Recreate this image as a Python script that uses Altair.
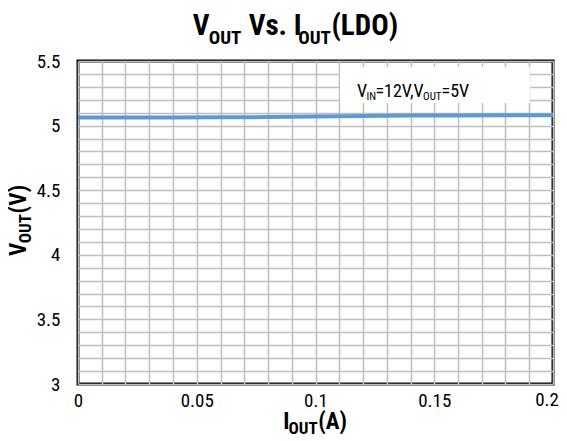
import altair as alt
import pandas as pd

# Line data
i_out = [0.0, 0.02, 0.04, 0.06, 0.08, 0.10, 0.12, 0.14, 0.16, 0.18, 0.20]
v_out = [5.062, 5.062, 5.063, 5.064, 5.066, 5.070, 5.075, 5.078, 5.079, 5.080, 5.080]

# Grid / tick values
x_grid = [round(0.01 * k, 2) for k in range(0, 21)]
y_grid = [round(3.0 + 0.1 * k, 1) for k in range(0, 26)]
x_last_label = 0.2

FONT = "Roboto Condensed, Liberation Sans, Arial, sans-serif"

# Arial advance widths (per 1000 em); Roboto Condensed is roughly 0.8 of these
W_REG = {" ": 278, "(": 333, ")": 333, ",": 278, ".": 278, "=": 584, "1": 556, "2": 556,
         "5": 556, "A": 667, "D": 722, "I": 278, "L": 556, "N": 722, "O": 778, "T": 611,
         "U": 722, "V": 667, "s": 500}
W_BOLD = {" ": 278, "(": 333, ")": 333, ".": 278, "A": 722, "D": 722, "I": 278, "L": 611,
          "O": 778, "T": 611, "U": 722, "V": 667, "s": 556}


def width(s, size, bold):
    tab = W_BOLD if bold else W_REG
    k = 0.83 if bold else 0.80
    return sum(tab.get(c, 556) for c in s) * size / 1000.0 * k


df = pd.DataFrame({"i": i_out, "v": v_out})
one = pd.DataFrame({"k": [0]})

x_axis = alt.Axis(
    values=x_grid, grid=True, ticks=False, domain=False, title=None,
    labelExpr="abs(datum.value*20 - round(datum.value*20)) < 0.0001 && datum.value < 0.199 ? format(datum.value, '~g') : ''",
    labelFont=FONT, labelFontSize=19, labelColor="black", labelPadding=7,
    gridColor="#BEBEBE", gridWidth=1.5, labelOverlap=False, labelFlush=False,
)
y_axis = alt.Axis(
    values=y_grid, grid=True, ticks=False, domain=False, title=None,
    labelExpr="abs(datum.value*2 - round(datum.value*2)) < 0.0001 ? format(datum.value, '~g') : ''",
    labelFont=FONT, labelFontSize=19, labelColor="black", labelPadding=18,
    gridColor="#BEBEBE", gridWidth=1.5, labelOverlap=False, labelFlush=False,
)

line = alt.Chart(df).mark_line(color="#5B9BD5", strokeWidth=4).encode(
    x=alt.X("i:Q", scale=alt.Scale(domain=[0, 0.2], nice=False), axis=x_axis),
    y=alt.Y("v:Q", scale=alt.Scale(domain=[3, 5.5], nice=False, zero=False), axis=y_axis),
)

# last x tick label, kept inside the canvas edge
last_lbl = alt.Chart(one).mark_text(
    text=f"{x_last_label:g}", font=FONT, fontSize=19, color="black",
    align="right", baseline="top", dx=6,
).encode(x=alt.XDatum(x_last_label, axis=x_axis), y=alt.value(330))

box = alt.Chart(one).mark_rect(color="white").encode(
    x=alt.value(262), x2=alt.value(452), y=alt.value(6), y2=alt.value(42)
)


def txt(s, x, y, size, bold=False, angle=0):
    props = dict(text=s, font=FONT, fontSize=size, align="left", baseline="alphabetic",
                 color="black", fontWeight="bold" if bold else "normal")
    if angle:
        props["angle"] = angle
    return alt.Chart(one).mark_text(**props).encode(x=alt.value(x), y=alt.value(y))


def run(parts, start, base, sub_drop, bold, vertical=False):
    """parts: list of (text, size, is_sub). Lays segments end to end."""
    out = []
    pos = start
    for s, size, is_sub in parts:
        if s.strip():
            if vertical:
                out.append(txt(s, base + (sub_drop if is_sub else 0), pos, size, bold, 270))
            else:
                out.append(txt(s, pos, base + (sub_drop if is_sub else 0), size, bold))
        step = width(s, size, bold)
        pos = pos - step if vertical else pos + step
    return out


def total(parts, bold):
    return sum(width(s, size, bold) for s, size, _ in parts)


title_parts = [("V", 29, False), ("OUT", 19, True), (" ", 29, False), ("Vs. I", 29, False),
               ("OUT", 19, True), ("(LDO)", 29, False)]
xt_parts = [("I", 23, False), ("OUT", 17, True), ("(A)", 23, False)]
yt_parts = [("V", 23, False), ("OUT", 17, True), ("(V)", 23, False)]
ann_parts = [("V", 18, False), ("IN", 11, True), ("=12V,V", 18, False),
             ("OUT", 11, True), ("=5V", 18, False)]

layers = [box, line, last_lbl]
layers += run(title_parts, 217.5 - total(title_parts, True) / 2, -26, 9, True)
layers += run(xt_parts, 236 - total(xt_parts, True) / 2, 368, 5, True)
layers += run(yt_parts, 161 + total(yt_parts, True) / 2, -52, 5, True, vertical=True)
layers += run(ann_parts, 279, 36, 3, False)

chart = alt.layer(*layers).properties(
    width=475, height=323,
    padding={"left": 70, "top": 53, "right": 6, "bottom": 50},
    autosize=alt.AutoSizeParams(type="none"),
    background="white",
).configure_view(stroke="black", strokeWidth=3)

chart.save("out.html", embed_options={"renderer": "svg", "actions": False})
